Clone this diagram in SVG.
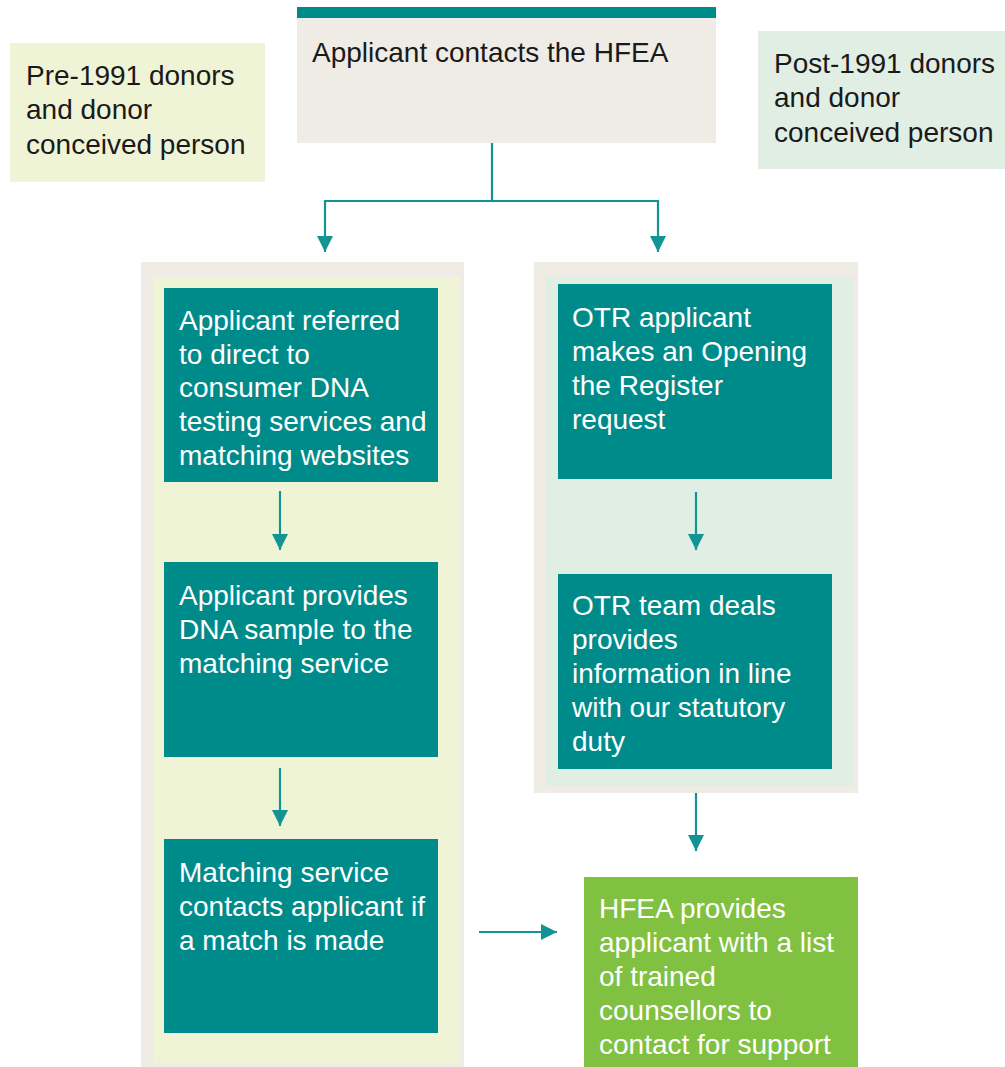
<svg xmlns="http://www.w3.org/2000/svg" width="1005" height="1067" viewBox="0 0 1005 1067">
<style>
text{font-family:"Liberation Sans",Arial,sans-serif;font-size:28px}
.dark{fill:#1a1a1a}
.light{fill:#ffffff}
.teal{fill:#008b8b}
.conn{stroke:#139494;stroke-width:2.2;fill:none}
</style>
<defs>
<marker id="ah" markerUnits="userSpaceOnUse" markerWidth="16" markerHeight="16" viewBox="0 0 16 16" refX="16" refY="8" orient="auto">
<path d="M0,0 L16,8 L0,16 Z" fill="#139494"/>
</marker>
</defs>
<rect width="1005" height="1067" fill="#ffffff"/>
<g id="panel-left">
<rect x="141" y="262" width="323" height="805" fill="#efece6"/>
<rect x="153" y="277" width="307" height="786" fill="#f0f4d7"/>
</g>
<g id="panel-right">
<rect x="534" y="262" width="324" height="531" fill="#efece6"/>
<rect x="546" y="277" width="307" height="509" fill="#e0eee4"/>
</g>
<g id="start">
<rect x="297" y="18" width="419" height="125" fill="#efece6"/>
<rect x="297" y="7" width="419" height="11" fill="#008b8b"/>
<text x="312" y="62" class="dark">Applicant contacts the HFEA</text>
</g>
<g id="pre1991">
<rect x="10" y="43" width="255" height="139" fill="#f0f4d7"/>
<text class="dark"><tspan x="26" y="85">Pre-1991 donors</tspan><tspan x="26" y="119">and donor</tspan><tspan x="26" y="154">conceived person</tspan></text>
</g>
<g id="post1991">
<rect x="758" y="31" width="247" height="138" fill="#e0eee4"/>
<text class="dark"><tspan x="774" y="73">Post-1991 donors</tspan><tspan x="774" y="107">and donor</tspan><tspan x="774" y="142">conceived person</tspan></text>
</g>
<g id="referred">
<rect x="164" y="288" width="274" height="194" class="teal"/>
<text class="light"><tspan x="179" y="330">Applicant referred</tspan><tspan x="179" y="364">to direct to</tspan><tspan x="179" y="397">consumer DNA</tspan><tspan x="179" y="431">testing services and</tspan><tspan x="179" y="465">matching websites</tspan></text>
</g>
<g id="dna-sample">
<rect x="164" y="562" width="274" height="195" class="teal"/>
<text class="light"><tspan x="179" y="605">Applicant provides</tspan><tspan x="179" y="639">DNA sample to the</tspan><tspan x="179" y="673">matching service</tspan></text>
</g>
<g id="match">
<rect x="164" y="839" width="274" height="194" class="teal"/>
<text class="light"><tspan x="179" y="882">Matching service</tspan><tspan x="179" y="916">contacts applicant if</tspan><tspan x="179" y="950">a match is made</tspan></text>
</g>
<g id="otr-request">
<rect x="558" y="284" width="274" height="195" class="teal"/>
<text class="light"><tspan x="572" y="327">OTR applicant</tspan><tspan x="572" y="361">makes an Opening</tspan><tspan x="572" y="395">the Register</tspan><tspan x="572" y="429">request</tspan></text>
</g>
<g id="otr-team">
<rect x="558" y="574" width="274" height="195" fill="#008b8b"/>
<text class="light"><tspan x="572" y="615">OTR team deals</tspan><tspan x="572" y="649">provides</tspan><tspan x="572" y="683">information in line</tspan><tspan x="572" y="717">with our statutory</tspan><tspan x="572" y="751">duty</tspan></text>
</g>
<g id="counsellors">
<rect x="584" y="877" width="274" height="190" fill="#80c142"/>
<text class="light"><tspan x="599" y="918">HFEA provides</tspan><tspan x="599" y="952">applicant with a list</tspan><tspan x="599" y="986">of trained</tspan><tspan x="599" y="1020">counsellors to</tspan><tspan x="599" y="1054">contact for support</tspan></text>
</g>
<g id="connectors">
<path class="conn" d="M492,143 V201"/>
<path class="conn" d="M492,201 H325 V252" marker-end="url(#ah)"/>
<path class="conn" d="M492,201 H658 V252" marker-end="url(#ah)"/>
<path class="conn" d="M280,491 V550" marker-end="url(#ah)"/>
<path class="conn" d="M280,768 V826" marker-end="url(#ah)"/>
<path class="conn" d="M479,932 H557" marker-end="url(#ah)"/>
<path class="conn" d="M696,492 V550" marker-end="url(#ah)"/>
<path class="conn" d="M696,793 V851" marker-end="url(#ah)"/>
</g>
</svg>
